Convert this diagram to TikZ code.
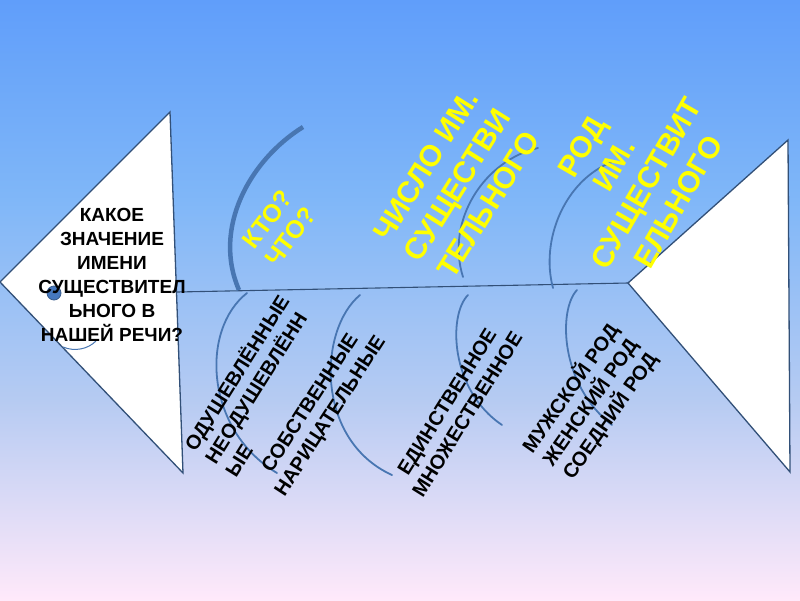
\documentclass[tikz,border=0pt]{standalone}
\usepackage{fontspec}
\setmainfont{Liberation Sans}
\definecolor{bgA}{RGB}{96,158,250}
\definecolor{bgB}{RGB}{128,183,248}
\definecolor{bgC}{RGB}{182,203,242}
\definecolor{bgD}{RGB}{255,233,250}
\definecolor{edge}{RGB}{50,80,120}
\definecolor{arcblue}{RGB}{72,118,178}
\definecolor{eyeblue}{RGB}{70,120,190}
\definecolor{ylw}{RGB}{255,255,0}
\begin{document}
\begin{tikzpicture}[x=1pt,y=-1pt,
  fishpart/.style={fill=white,draw=edge,line width=1.3pt,line join=miter},
  spineline/.style={draw=edge,line width=1.1pt},
  thinarc/.style={draw=arcblue,line width=1.8pt,line cap=round},
  thickarc/.style={draw=arcblue,line width=4.5pt},
  headtext/.style={font=\fontsize{19}{24}\selectfont\bfseries,align=center,inner sep=0pt,text=black},
  ytext/.style={font=\fontsize{30}{37}\selectfont\bfseries,align=center,inner sep=0pt,text=ylw},
  ysmall/.style={font=\fontsize{25}{29}\selectfont\bfseries,align=center,inner sep=0pt,text=ylw},
  btext/.style={font=\fontsize{20}{24}\selectfont\bfseries,align=center,inner sep=0pt,text=black}]
\useasboundingbox (0,0) rectangle (800,600);
% background
\shade[top color=bgA,bottom color=bgB] (0,0) rectangle (800,201);
\shade[top color=bgB,bottom color=bgC] (0,200) rectangle (800,401);
\shade[top color=bgC,bottom color=bgD] (0,400) rectangle (800,600);
% head and tail
\draw[fishpart] (170,112) -- (0,282) -- (183,473) -- cycle;
\draw[fishpart] (788,140) -- (628,283) -- (790,472) -- cycle;
\coordinate (spineL) at (177,292);
\coordinate (spineR) at (628,283);
\draw[spineline] (spineL) -- (spineR);
% eye and mouth
\fill[eyeblue] (54,293) circle (7);
\draw[edge!70!eyeblue,line width=0.8pt] (54,293) circle (7);
\draw[arcblue,line width=1pt] (63,347) .. controls (75,352) and (88,349) .. (96,341);
% upper arcs
\draw[thickarc] (303,127) .. controls (250,160) and (212,228) .. (239,290);
\draw[thinarc] (538,148) .. controls (485,160) and (445,220) .. (463,277);
\draw[thinarc] (612,162) .. controls (565,180) and (540,240) .. (553,288);
% lower arcs
\draw[thinarc] (247,293) .. controls (200,330) and (205,430) .. (277,473);
\draw[thinarc] (360,295) .. controls (318,330) and (315,440) .. (392,475);
\draw[thinarc] (468,295) .. controls (448,315) and (450,390) .. (502,425);
\draw[thinarc] (577,290) .. controls (558,310) and (560,385) .. (612,425);
% texts
\node[headtext] (q) at (112,275) {КАКОЕ\\ЗНАЧЕНИЕ\\ИМЕНИ\\СУЩЕСТВИТЕЛ\\ЬНОГО В\\НАШЕЙ РЕЧИ?};
\node[ysmall,rotate=53] (kto) at (279,228) {КТО?\\ЧТО?};
\node[ytext,rotate=58] (num) at (457,185) {ЧИСЛО ИМ.\\СУЩЕСТВИ\\ТЕЛЬНОГО};
\node[ytext,rotate=60] (rod) at (630,174) {РОД\\ИМ.\\СУЩЕСТВИТ\\ЕЛЬНОГО};
\node[btext,align=left,rotate=58] (anim) at (256,385) {ОДУШЕВЛЁННЫЕ\\НЕОДУШЕВЛЁНН\\ЫЕ};
\node[btext,rotate=57] (prop) at (321,410) {СОБСТВЕННЫЕ\\НАРИЦАТЕЛЬНЫЕ};
\node[btext,rotate=58] (numv) at (457,408) {ЕДИНСТВЕННОЕ\\МНОЖЕСТВЕННОЕ};
\node[btext,rotate=55] (gen) at (590,402) {МУЖСКОЙ РОД\\ЖЕНСКИЙ РОД\\СОЕДНИЙ РОД};
\end{tikzpicture}
\end{document}
